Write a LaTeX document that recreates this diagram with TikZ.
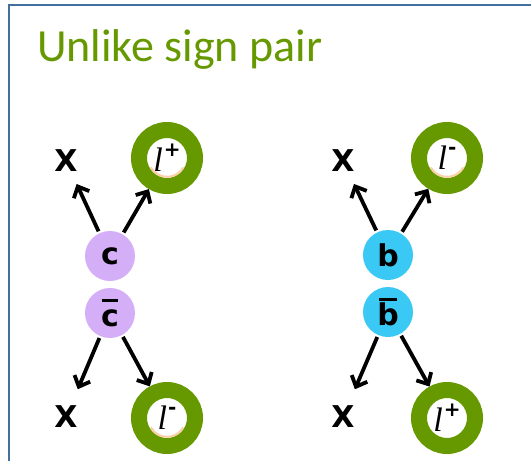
\documentclass[tikz,border=0pt]{standalone}
\usepackage{fontspec}
\setmainfont{Carlito}
\newfontfamily\heavysans{DejaVu Sans}[UprightFont=* Bold]
\newfontfamily\leptonfont{Liberation Serif}
\usetikzlibrary{arrows.meta}

\definecolor{framebl}{RGB}{65,113,156}
\definecolor{ringgreen}{RGB}{102,153,0}
\definecolor{charmpurple}{RGB}{212,174,246}
\definecolor{bottomblue}{RGB}{58,200,245}
\definecolor{glow}{RGB}{246,150,60}

% letter with a thick bar above it (antiquark)
\newcommand\barred[1]{\setbox0\hbox{#1}\rlap{\hbox to \wd0{\hss\raisebox{25pt}{\rule{0.85\wd0}{3.2pt}}\hss}}\box0}
% lepton symbol with charge
\newcommand\lep[1]{{\leptonfont\itshape\fontsize{34}{34}\selectfont l}\kern1pt\raisebox{15pt}{\heavysans\fontsize{20}{20}\selectfont #1}}

\begin{document}
\begin{tikzpicture}[x=1pt,y=-1pt,
  quark/.style={circle, minimum size=50pt, inner sep=0pt,
    font=\heavysans\fontsize{30}{30}\selectfont},
  jetx/.style={inner sep=0pt, minimum size=22pt,
    font=\heavysans\fontsize{30}{30}\selectfont},
  lepton/.style={circle, draw=ringgreen, line width=16pt, fill=white,
    minimum size=56pt, inner sep=0pt},
  decay/.style={line width=3.8pt, -{Straight Barb[length=9pt,width=17pt]},
    shorten <=2pt}
]
\useasboundingbox (0,0) rectangle (531,461);

% slide frame
\draw[framebl, line width=2.5pt] (9,470) |- (540,5);

% title
\node[anchor=base west, inner sep=0pt, text=ringgreen,
  font=\fontsize{46}{46}\selectfont] (title) at (37,61) {Unlike sign pair};

% ---- charm pair ----
\node[quark, fill=charmpurple] (c) at (110,256) {c};
\node[quark, fill=charmpurple] (cbar) at (110,313) {\barred{c}};
\node[jetx] (xc1) at (66,161) {X};
\node[jetx] (xc2) at (66,417) {X};
\node[lepton] (lc1) at (167,158) {\lep{+}};
\node[lepton] (lc2) at (167,418) {\lep{-}};

% ---- beauty pair ----
\node[quark, fill=bottomblue] (b) at (388,255) {b};
\node[quark, fill=bottomblue] (bbar) at (388,312) {\barred{b}};
\node[jetx] (xb1) at (343,161) {X};
\node[jetx] (xb2) at (343,417) {X};
\node[lepton] (lb1) at (447,158) {\lep{-}};
\node[lepton] (lb2) at (447,418) {\lep{+}};

% soft glow along the inner rims
\foreach \r in {lc1,lc2,lb1}
  \draw[glow!45, line width=2pt] ([shift={(30:18.8)}]\r.center) arc (30:150:18.8);

% decay arrows
\draw[decay, shorten >=13pt] (c) -- (xc1);
\draw[decay] (c) -- (lc1);
\draw[decay, shorten >=18pt] (cbar) -- (xc2);
\draw[decay] (cbar) -- (lc2);

\draw[decay, shorten >=13pt] (b) -- (xb1);
\draw[decay] (b) -- (lb1);
\draw[decay, shorten >=18pt] (bbar) -- (xb2);
\draw[decay] (bbar) -- (lb2);
\end{tikzpicture}
\end{document}
